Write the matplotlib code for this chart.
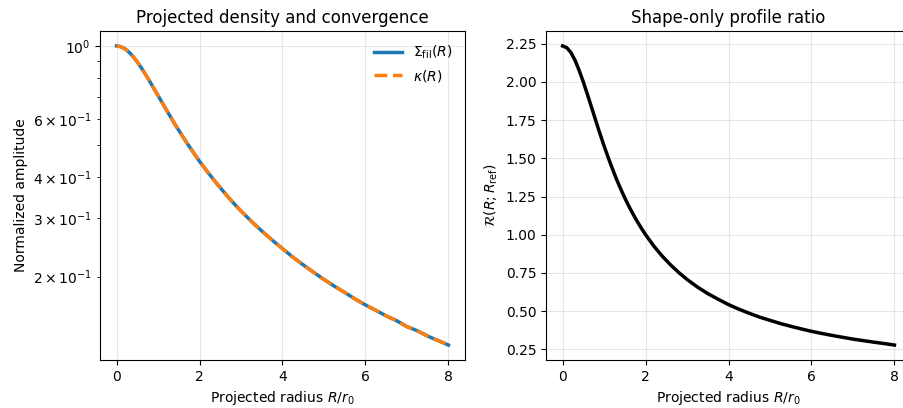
import numpy as np
import matplotlib
matplotlib.use("Agg")
import matplotlib.pyplot as plt

# projected radius samples (R / r0)
radius = [0.0, 0.1, 0.2, 0.3, 0.4, 0.5, 0.6, 0.7, 0.8, 0.9, 1.0, 1.1, 1.2,
          1.3, 1.4, 1.5, 1.6, 1.7, 1.8, 1.9, 2.0, 2.2, 2.4, 2.6, 2.8, 3.0,
          3.25, 3.5, 3.75, 4.0, 4.25, 4.5, 4.75, 5.0, 5.25, 5.5, 5.75,
          6.0, 6.25, 6.5, 6.75, 7.0, 7.25, 7.5, 7.75, 8.0]

# normalized projected density
sigma_fil = [1.000, 0.995, 0.981, 0.958, 0.928, 0.894, 0.857, 0.819, 0.781,
             0.743, 0.707, 0.673, 0.640, 0.610, 0.581, 0.555, 0.530, 0.507,
             0.486, 0.466, 0.447, 0.414, 0.385, 0.359, 0.336, 0.316,
             0.294, 0.275, 0.258, 0.243, 0.229, 0.217, 0.206, 0.196, 0.187,
             0.179, 0.171, 0.164, 0.158, 0.152, 0.147, 0.141, 0.137, 0.132,
             0.128, 0.124]

# convergence lies right on top of the density curve
kappa = [1.000, 0.995, 0.981, 0.958, 0.928, 0.894, 0.857, 0.819, 0.781,
         0.743, 0.707, 0.673, 0.640, 0.610, 0.581, 0.555, 0.530, 0.507,
         0.486, 0.466, 0.447, 0.414, 0.385, 0.359, 0.336, 0.316,
         0.294, 0.275, 0.258, 0.243, 0.229, 0.217, 0.206, 0.196, 0.187,
         0.179, 0.171, 0.164, 0.158, 0.152, 0.147, 0.141, 0.137, 0.132,
         0.128, 0.124]

# shape-only ratio
ratio = [2.236, 2.225, 2.193, 2.142, 2.075, 2.000, 1.917, 1.832, 1.746,
         1.662, 1.581, 1.505, 1.432, 1.363, 1.300, 1.240, 1.185, 1.134,
         1.086, 1.042, 1.000, 0.925, 0.860, 0.803, 0.752, 0.707,
         0.657, 0.614, 0.577, 0.542, 0.512, 0.485, 0.460, 0.439, 0.418,
         0.400, 0.383, 0.367, 0.353, 0.340, 0.328, 0.316, 0.306, 0.296,
         0.287, 0.277]

fig = plt.figure(figsize=(9.04, 4.08), dpi=100)
# right panel runs slightly past the canvas edge like the original
ax1 = fig.add_axes([0.1106, 0.1176, 0.4038, 0.8064])
ax2 = fig.add_axes([0.604, 0.1176, 0.4038, 0.8064])

ax1.plot(radius, sigma_fil, color="#1f77b4", lw=2.5, label=r"$\Sigma_{\rm fil}(R)$")
ax1.plot(radius, kappa, color="#ff7f0e", lw=2.5, ls="--", label=r"$\kappa(R)$")
ax1.set_yscale("log")
ax1.set_xlabel(r"Projected radius $R/r_0$")
ax1.set_ylabel("Normalized amplitude")
ax1.set_title("Projected density and convergence", fontsize=12)
ax1.grid(alpha=0.3)
ax1.legend(frameon=False, loc="upper right")

ax2.plot(radius, ratio, color="black", lw=2.5)
ax2.set_xlabel(r"Projected radius $R/r_0$")
ax2.set_ylabel(r"$\mathcal{R}(R;R_{\rm ref})$")
ax2.set_title("Shape-only profile ratio", fontsize=12)
ax2.grid(alpha=0.3)

plt.savefig("out.png")
